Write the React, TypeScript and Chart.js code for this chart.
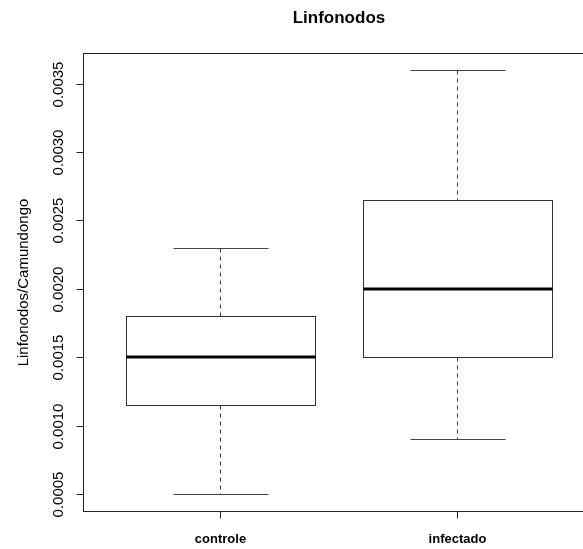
import React, { useEffect, useRef } from "react";
import { Chart, registerables } from "chart.js";

Chart.register(...registerables);

// ---- data ----
const categories = ["controle", "infectado"];
const whiskerLow = [0.0005, 0.0009];
const q1 = [0.00115, 0.0015];
const median = [0.0015, 0.002];
const q3 = [0.0018, 0.00265];
const whiskerHigh = [0.0023, 0.0036];
const yTicks = [0.0005, 0.001, 0.0015, 0.002, 0.0025, 0.003, 0.0035];
const yTickLabels = ["0.0005", "0.0010", "0.0015", "0.0020", "0.0025", "0.0030", "0.0035"];
const titleText = "Linfonodos";
const yTitle = "Linfonodos/Camundongo";

const FONT = '"Liberation Sans", Arial, sans-serif';

const boxPlugin = {
  id: "rbox",
  afterDraw(chart: any) {
    const ctx = chart.ctx;
    const xs = chart.scales.x;
    const ys = chart.scales.y;
    const c = (v: number) => Math.round(v) + 0.5;
    ctx.save();
    ctx.strokeStyle = "#222";
    ctx.lineWidth = 1;

    // frame (R's plot region; right edge falls outside the canvas)
    const fl = c(xs.getPixelForValue(0.42));
    const fr = c(xs.getPixelForValue(2.58));
    const ft = c(ys.getPixelForValue(ys.max));
    const fb = c(ys.getPixelForValue(ys.min));
    ctx.strokeRect(fl, ft, fr - fl, fb - ft);

    // y ticks + labels
    ctx.fillStyle = "#000";
    ctx.font = "15px " + FONT;
    ctx.textAlign = "center";
    ctx.textBaseline = "middle";
    yTicks.forEach((v, i) => {
      const py = c(ys.getPixelForValue(v));
      ctx.beginPath();
      ctx.moveTo(fl - 7, py);
      ctx.lineTo(fl, py);
      ctx.stroke();
      ctx.save();
      ctx.translate(fl - 25, py);
      ctx.rotate(-Math.PI / 2);
      ctx.fillText(yTickLabels[i], 0, 0);
      ctx.restore();
    });

    // y title
    ctx.save();
    ctx.translate(24, (ft + fb) / 2);
    ctx.rotate(-Math.PI / 2);
    ctx.font = "15px " + FONT;
    ctx.fillText(yTitle, 0, 0);
    ctx.restore();

    // title
    ctx.font = "bold 17px " + FONT;
    ctx.fillText(titleText, xs.getPixelForValue(1.5), 18);

    // x ticks + category labels
    ctx.font = "bold 13px " + FONT;
    categories.forEach((cat, i) => {
      const px = c(xs.getPixelForValue(i + 1));
      ctx.beginPath();
      ctx.moveTo(px, fb);
      ctx.lineTo(px, fb + 7);
      ctx.stroke();
      ctx.fillText(cat, px, fb + 28);
    });

    // boxes
    categories.forEach((_, i) => {
      const pos = i + 1;
      const px = c(xs.getPixelForValue(pos));
      const bl = c(xs.getPixelForValue(pos - 0.4));
      const br = c(xs.getPixelForValue(pos + 0.4));
      const sl = c(xs.getPixelForValue(pos - 0.2));
      const sr = c(xs.getPixelForValue(pos + 0.2));
      const yLo = c(ys.getPixelForValue(whiskerLow[i]));
      const yHi = c(ys.getPixelForValue(whiskerHigh[i]));
      const yQ1 = c(ys.getPixelForValue(q1[i]));
      const yQ3 = c(ys.getPixelForValue(q3[i]));
      const yMed = ys.getPixelForValue(median[i]);

      ctx.strokeStyle = "#333";
      ctx.lineWidth = 1;
      // whiskers (dashed)
      ctx.setLineDash([4, 4]);
      ctx.beginPath();
      ctx.moveTo(px, yHi);
      ctx.lineTo(px, yQ3);
      ctx.moveTo(px, yQ1);
      ctx.lineTo(px, yLo);
      ctx.stroke();
      ctx.setLineDash([]);
      // staples
      ctx.strokeStyle = "#444";
      ctx.beginPath();
      ctx.moveTo(sl, yHi);
      ctx.lineTo(sr, yHi);
      ctx.moveTo(sl, yLo);
      ctx.lineTo(sr, yLo);
      ctx.stroke();
      // box
      ctx.strokeStyle = "#333";
      ctx.fillStyle = "#fff";
      ctx.fillRect(bl, yQ3, br - bl, yQ1 - yQ3);
      ctx.strokeRect(bl, yQ3, br - bl, yQ1 - yQ3);
      // median
      ctx.strokeStyle = "#000";
      ctx.lineWidth = 3;
      ctx.beginPath();
      ctx.moveTo(bl, Math.round(yMed));
      ctx.lineTo(br, Math.round(yMed));
      ctx.stroke();
      ctx.lineWidth = 1;
    });

    ctx.restore();
  },
};

export default function App() {
  const ref = useRef<HTMLCanvasElement | null>(null);
  useEffect(() => {
    document.body.style.margin = "0";
    if (!ref.current) return;
    const chart = new Chart(ref.current, {
      type: "scatter",
      data: {
        datasets: [
          {
            label: "median",
            data: categories.map((_, i) => ({ x: i + 1, y: median[i] })),
            pointRadius: 0,
            showLine: false,
          },
        ],
      },
      options: {
        animation: false,
        responsive: false,
        devicePixelRatio: 1,
        layout: { padding: { left: 83, top: 53, right: 0, bottom: 38 } },
        plugins: { legend: { display: false }, tooltip: { enabled: false }, title: { display: false } },
        scales: {
          x: { type: "linear", display: false, min: 0.42, max: 2.5297 },
          y: { type: "linear", display: false, min: 0.000376, max: 0.003724 },
        },
      },
      plugins: [boxPlugin],
    });
    return () => chart.destroy();
  }, []);
  return (
    <div style={{ position: "absolute", left: 0, top: 0, width: 583, height: 549, background: "#fff" }}>
      <canvas ref={ref} width={583} height={549} />
    </div>
  );
}
